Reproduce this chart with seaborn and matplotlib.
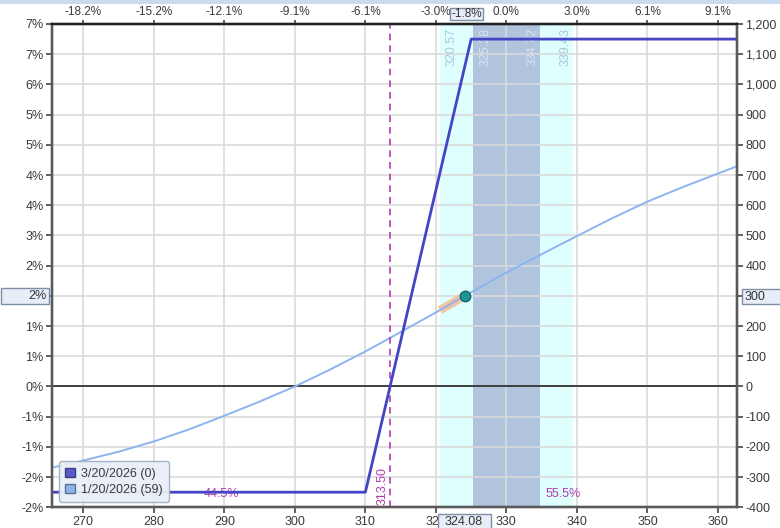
import numpy as np
import pandas as pd
import matplotlib
matplotlib.use("Agg")
import matplotlib.pyplot as plt
import seaborn as sns
from matplotlib.patches import Patch, Rectangle

# expiration P&L (3/20/2026)
exp_price = [265.56, 310.0, 325.0, 362.7]
exp_pnl = [-350, -350, 1150, 1150]

# T+0 P&L (1/20/2026, 59 days left)
t0_price = [265.56, 270, 275, 280, 285, 290, 295, 300, 305, 310, 315, 320,
            324.08, 330, 335, 340, 345, 350, 355, 360, 362.7]
t0_pnl = [-269, -245, -216, -182, -142, -97, -50, 0, 56, 116, 180, 245,
          300, 377, 438, 498, 557, 612, 660, 705, 729]

# highlighted piece of the T+0 curve near the current price
hl_price = [320.6, 324.08, 324.7]
hl_pnl = [253, 300, 309]

current_price = 324.08
current_pnl = 300
current_move = "-1.8%"
breakeven = 313.50
outer_band = (320.57, 339.43)
inner_band = (325.28, 334.72)
prob_below = "44.5%"
prob_above = "55.5%"

x_ticks = [270, 280, 290, 300, 310, 320, 330, 340, 350, 360]
top_labels = ["-18.2%", "-15.2%", "-12.1%", "-9.1%", "-6.1%", "-3.0%", "0.0%", "3.0%", "6.1%", "9.1%"]
y_ticks = list(range(-400, 1201, 100))
left_labels = ["-2%", "-2%", "-1%", "-1%", "0%", "1%", "1%", "2%", "2%",
               "3%", "4%", "4%", "5%", "5%", "6%", "7%", "7%"]
right_labels = ["-400", "-300", "-200", "-100", "0", "100", "200", "300", "400",
                "500", "600", "700", "800", "900", "1,000", "1,100", "1,200"]
legend_labels = ["3/20/2026 (0)", "1/20/2026 (59)"]

sns.set_style("white")
plt.rcParams['font.family'] = ['Liberation Sans', 'DejaVu Sans']
plt.rcParams['font.size'] = 9

W, H = 780, 528
fig = plt.figure(figsize=(W / 100, H / 100), dpi=100)
ax = fig.add_axes([52 / W, 1 - 507.3 / H, (737 - 52) / W, (507.3 - 24) / H])

xlim = (265.56, 362.7)
ylim = (-400, 1200)

# probability bands
ax.axvspan(*outer_band, color="#dffefe", zorder=0.1, lw=0)
ax.axvspan(*inner_band, color="#b0c4de", zorder=0.2, lw=0)

ax.set_axisbelow(True)
ax.grid(True, color="#dadada", lw=1.2)
ax.axhline(0, color="#333333", lw=1.3, zorder=1)

df_exp = pd.DataFrame({"price": exp_price, "pnl": exp_pnl})
df_t0 = pd.DataFrame({"price": t0_price, "pnl": t0_pnl})
df_hl = pd.DataFrame({"price": hl_price, "pnl": hl_pnl})

sns.lineplot(data=df_hl, x="price", y="pnl", ax=ax, color="#f2c3a0", lw=6,
             solid_capstyle="butt", zorder=2, legend=False)
sns.lineplot(data=df_t0, x="price", y="pnl", ax=ax, color="#8cb4f0", lw=1.4,
             zorder=3, legend=False)
sns.lineplot(data=df_exp, x="price", y="pnl", ax=ax, color="#4444c4", lw=2.0,
             zorder=4, legend=False)
ax.plot([current_price], [current_pnl], "o", ms=7.5, color="#1e9494",
        mec="#0f6a6a", mew=1, zorder=5)

ax.axvline(breakeven, color="#b03cb0", lw=1.2, ls=(0, (4, 3)), zorder=3)
ax.annotate(f"{breakeven:.2f}", (breakeven, ylim[0]), xytext=(-1, 2),
            textcoords="offset pixels", rotation=90, ha="right", va="bottom",
            color="#b03cb0", fontsize=9)

band_color = {outer_band: "#a9c6dc", inner_band: "#d6e2f2"}
for band in (outer_band, inner_band):
    ax.annotate(f"{band[0]:.2f}", (band[0], ylim[1]), xytext=(6, -4),
                textcoords="offset pixels", rotation=90, ha="left", va="top",
                color=band_color[band], fontsize=9)
    ax.annotate(f"{band[1]:.2f}", (band[1], ylim[1]), xytext=(-1, -4),
                textcoords="offset pixels", rotation=90, ha="right", va="top",
                color=band_color[band], fontsize=9)

ax.text(289.6, -355, prob_below, color="#b03cb0", ha="center", va="center", fontsize=9)
ax.text(338.0, -355, prob_above, color="#b03cb0", ha="center", va="center", fontsize=9)

# the current P&L gets its own boxed label, so blank the plain tick label there
cur_idx = y_ticks.index(current_pnl)
left_shown = [("" if i == cur_idx else s) for i, s in enumerate(left_labels)]
right_shown = [("" if i == cur_idx else s) for i, s in enumerate(right_labels)]

ax.set_xlim(xlim)
ax.set_ylim(ylim)
ax.set_xticks(x_ticks)
ax.set_xticklabels([str(t) for t in x_ticks])
ax.set_yticks(y_ticks)
ax.set_yticklabels(left_shown)
ax.set_xlabel("")
ax.set_ylabel("")

ax_top = ax.twiny()
ax_top.set_xlim(xlim)
ax_top.set_xticks(x_ticks)
ax_top.set_xticklabels(top_labels)

ax_right = ax.twinx()
ax_right.set_ylim(ylim)
ax_right.set_yticks(y_ticks)
ax_right.set_yticklabels(right_shown)

for a in (ax, ax_top, ax_right):
    a.tick_params(direction="out", length=4, width=1.2, color="#444444",
                  labelcolor="#3a3a3a", labelsize=9, pad=2)
    for name, sp in a.spines.items():
        sp.set_visible(True)
        sp.set_linewidth(1.6)
        sp.set_color("#222222" if name == "top" else "#5a5a5a")
ax.tick_params(axis="x", bottom=True)
ax.tick_params(axis="y", left=True)
ax_top.tick_params(axis="x", top=True, labeltop=True, bottom=False,
                   labelbottom=False, length=3, pad=1.3, labelsize=8.5)
ax_right.tick_params(axis="y", right=True, labelright=True, left=False, labelleft=False)

handles = [Patch(facecolor="#5a5ac8", edgecolor="#3c3c80"),
           Patch(facecolor="#90b4ea", edgecolor="#56749a")]
leg = ax_right.legend(handles, legend_labels, loc="lower left",
                      bbox_to_anchor=(0.010, 0.011), borderaxespad=0,
                      handlelength=0.8, handleheight=0.8, handletextpad=0.5,
                      fontsize=9, frameon=True, fancybox=True,
                      facecolor="#e9eff7", edgecolor="#a2b0c2", framealpha=0.95,
                      labelspacing=0.3, borderpad=0.5)
for t in leg.get_texts():
    t.set_color("#3a3a3a")


def fig_box(x0, y0, x1, y1, text, tx, ha, size=9):
    fig.add_artist(Rectangle((x0 / W, 1 - y1 / H), (x1 - x0) / W, (y1 - y0) / H,
                             transform=fig.transFigure, facecolor="#e7eef8",
                             edgecolor="#7f8fa3", lw=1, zorder=10))
    fig.text(tx / W, 1 - (y0 + y1) / 2 / H, text, ha=ha, va="center",
             fontsize=size, color="#333333", zorder=11)


# boxed markers for the current price / current P&L on the axes
fig_box(1, 288, 49, 304, left_labels[cur_idx], 47, "right")
fig_box(742, 289, 781, 304, right_labels[cur_idx], 745, "left")
fig_box(450, 8, 483, 20, current_move, 466.5, "center", size=8.5)
fig_box(438, 514, 491, 530, f"{current_price:.2f}", 464, "center")

# light strip at the very top
fig.add_artist(Rectangle((0, 1 - 3.5 / H), 1, 3.5 / H, transform=fig.transFigure,
                         facecolor="#c9dbef", edgecolor="none", zorder=10))

fig.savefig("out.png", dpi=100)
